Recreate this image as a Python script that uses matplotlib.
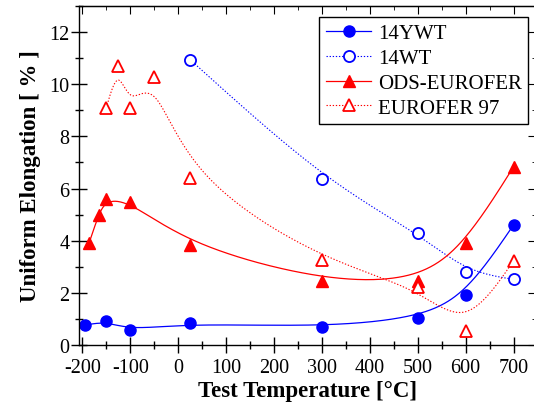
import numpy as np
import matplotlib
matplotlib.use("Agg")
import matplotlib.pyplot as plt
from matplotlib.ticker import MultipleLocator

plt.rcParams['font.family'] = ['Liberation Serif', 'DejaVu Serif']
plt.rcParams['axes.unicode_minus'] = False

# Uniform elongation [%] versus test temperature [°C]
t_14ywt = [-195, -150, -100, 25, 300, 500, 600, 700]
e_14ywt = [0.75, 0.90, 0.56, 0.82, 0.68, 1.02, 1.90, 4.60]

t_14wt = [25, 300, 500, 600, 700]
e_14wt = [10.95, 6.38, 4.30, 2.81, 2.51]

t_ods = [-186, -166, -150, -100, 25, 300, 500, 600, 700]
e_ods = [3.90, 5.00, 5.58, 5.50, 3.82, 2.44, 2.44, 3.90, 6.83]

t_eu97 = [-150, -125, -100, -50, 25, 300, 500, 600, 700]
e_eu97 = [9.10, 10.70, 9.10, 10.30, 6.40, 3.24, 2.22, 0.54, 3.22]

x_ticks = [-200, -100, 0, 100, 200, 300, 400, 500, 600, 700]
y_ticks = [0, 2, 4, 6, 8, 10, 12]


def bspline(xs, ys, n_seg=60):
    """Uniform cubic B-spline with the data points as control points.
    Mirrored phantom points make the curve start and end on the data."""
    P = np.column_stack([xs, ys]).astype(float)
    P = np.vstack([2 * P[0] - P[1], P, 2 * P[-1] - P[-2]])
    t = np.linspace(0, 1, n_seg)
    b0 = (1 - t) ** 3 / 6
    b1 = (3 * t ** 3 - 6 * t ** 2 + 4) / 6
    b2 = (-3 * t ** 3 + 3 * t ** 2 + 3 * t + 1) / 6
    b3 = t ** 3 / 6
    pts = []
    for i in range(len(P) - 3):
        seg = (np.outer(b0, P[i]) + np.outer(b1, P[i + 1])
               + np.outer(b2, P[i + 2]) + np.outer(b3, P[i + 3]))
        pts.append(seg if i == 0 else seg[1:])
    C = np.vstack(pts)
    return C[:, 0], C[:, 1]


fig = plt.figure(figsize=(5.34, 4.06), dpi=100)
ax = fig.add_axes([0.1474, 0.1485, 0.8564, 0.8335])

blue = '#0000ff'
red = '#ff0000'
dots = (0, (1.2, 1.6))

cx, cy = bspline(t_14ywt, e_14ywt)
ax.plot(cx, cy, color=blue, lw=0.9)
ax.plot(t_14ywt, e_14ywt, 'o', color=blue, ms=8, mec=blue)
ax.plot([], [], '-o', color=blue, lw=0.9, ms=8, label='14YWT')

cx, cy = bspline(t_14wt, e_14wt)
ax.plot(cx, cy, color=blue, lw=0.8, ls=dots)
ax.plot(t_14wt, e_14wt, 'o', mfc='white', mec=blue, mew=1.3, ms=8)
ax.plot([], [], 'o', color=blue, lw=0.8, ls=dots, mfc='white', mec=blue,
        mew=1.3, ms=8, label='14WT')

cx, cy = bspline(t_ods, e_ods)
ax.plot(cx, cy, color=red, lw=0.9)
ax.plot(t_ods, e_ods, '^', color=red, ms=9, mec=red)
ax.plot([], [], '-^', color=red, lw=0.9, ms=9, label='ODS-EUROFER')

cx, cy = bspline(t_eu97, e_eu97)
ax.plot(cx, cy, color=red, lw=0.8, ls=dots)
ax.plot(t_eu97, e_eu97, '^', mfc='white', mec=red, mew=1.3, ms=9)
ax.plot([], [], '^', color=red, lw=0.8, ls=dots, mfc='white', mec=red,
        mew=1.3, ms=9, label='EUROFER 97')

ax.set_xlim(-207.5, 747)
ax.set_ylim(0, 13)
ax.set_xticks(x_ticks)
ax.set_xticklabels([str(v) for v in x_ticks])
ax.set_yticks(y_ticks)
ax.xaxis.set_minor_locator(MultipleLocator(50))
ax.yaxis.set_minor_locator(MultipleLocator(1))
ax.tick_params(which='major', direction='inout', length=11, width=1,
               labelsize=14.5, pad=1)
ax.tick_params(which='minor', direction='inout', length=6, width=1)
ax.tick_params(axis='x', pad=4)

for side in ax.spines.values():
    side.set_linewidth(1)

top = ax.secondary_xaxis('top')
top.set_xticks(x_ticks)
top.xaxis.set_minor_locator(MultipleLocator(50))
top.tick_params(which='major', direction='in', length=6, labeltop=False)
top.tick_params(which='minor', direction='in', length=3)
right = ax.secondary_yaxis('right')
right.set_yticks(y_ticks)
right.yaxis.set_minor_locator(MultipleLocator(1))
right.tick_params(which='major', direction='in', length=6, labelright=False)
right.tick_params(which='minor', direction='in', length=3)

ax.set_xlabel('Test Temperature [°C]', fontsize=16.5, fontweight='bold',
              labelpad=2)
ax.set_ylabel('Uniform Elongation [ % ]', fontsize=16.5, fontweight='bold',
              labelpad=6)

leg = ax.legend(loc='upper right', bbox_to_anchor=(0.982, 0.967),
                fontsize=15, frameon=True, fancybox=False, edgecolor='black',
                framealpha=1, handlelength=2.2, handletextpad=0.3,
                labelspacing=0.25, borderpad=0.3, borderaxespad=0)
leg.get_frame().set_linewidth(1)

fig.savefig('out.png', dpi=100)
